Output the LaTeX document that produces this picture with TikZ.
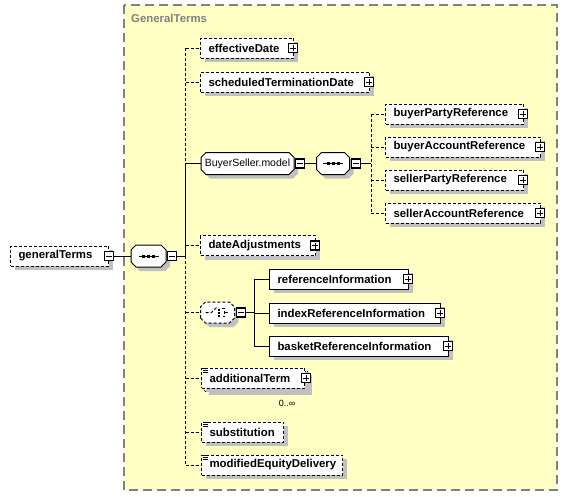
\documentclass[tikz,border=0pt]{standalone}
\usepackage{fontspec}
\setmainfont{Liberation Sans}
\usetikzlibrary{shadows}

\definecolor{bgyellow}{RGB}{255,255,196}
\definecolor{shadowgray}{RGB}{192,192,192}
\definecolor{framegray}{RGB}{128,128,128}

% box with cut corners for model groups and compositors
\makeatletter
\pgfdeclareshape{cutbox}{
  \inheritsavedanchors[from=rectangle]
  \inheritanchorborder[from=rectangle]
  \inheritanchor[from=rectangle]{center}
  \inheritanchor[from=rectangle]{north}
  \inheritanchor[from=rectangle]{south}
  \inheritanchor[from=rectangle]{east}
  \inheritanchor[from=rectangle]{west}
  \inheritanchor[from=rectangle]{north east}
  \inheritanchor[from=rectangle]{north west}
  \inheritanchor[from=rectangle]{south east}
  \inheritanchor[from=rectangle]{south west}
  \inheritanchor[from=rectangle]{base}
  \inheritanchor[from=rectangle]{mid}
  \backgroundpath{
    \southwest \pgf@xa=\pgf@x \pgf@ya=\pgf@y
    \northeast \pgf@xb=\pgf@x \pgf@yb=\pgf@y
    \pgfpathmoveto{\pgfpoint{\pgf@xa}{\pgf@ya+5pt}}
    \pgfpathlineto{\pgfpoint{\pgf@xa}{\pgf@yb-5pt}}
    \pgfpathlineto{\pgfpoint{\pgf@xa+5pt}{\pgf@yb}}
    \pgfpathlineto{\pgfpoint{\pgf@xb-5pt}{\pgf@yb}}
    \pgfpathlineto{\pgfpoint{\pgf@xb}{\pgf@yb-5pt}}
    \pgfpathlineto{\pgfpoint{\pgf@xb}{\pgf@ya+5pt}}
    \pgfpathlineto{\pgfpoint{\pgf@xb-5pt}{\pgf@ya}}
    \pgfpathlineto{\pgfpoint{\pgf@xa+5pt}{\pgf@ya}}
    \pgfpathclose
  }
}
\makeatother

\tikzset{
  boxshadow/.style={drop shadow={shadow xshift=4pt, shadow yshift=-4pt, fill=shadowgray, opacity=1}},
  elem/.style={rectangle, draw=black, fill=white, line width=1pt, anchor=west, inner xsep=8pt, inner ysep=0pt,
    minimum height=20pt, align=left, font=\fontsize{11.4}{13}\selectfont\bfseries, boxshadow},
  optelem/.style={elem, dash pattern=on 3pt off 2pt},
  compo/.style={cutbox, draw=black, fill=white, line width=1pt, inner sep=0pt, outer sep=0pt,
    minimum height=22pt, boxshadow},
  seqsym/.style={path picture={
    \draw[line width=1pt] ([xshift=-10pt]path picture bounding box.center) -- ([xshift=10pt]path picture bounding box.center);
    \foreach \d in {-5,0,5}
      \fill[black] ([xshift=\d pt]path picture bounding box.center) ++(-1.5,-1.5) rectangle ++(3,3);
  }},
  choicesym/.style={path picture={
    \draw[line width=1pt] ([shift={(-12,0)}]path picture bounding box.center) -- ([shift={(-6,0)}]path picture bounding box.center)
      -- ([shift={(-1,-5)}]path picture bounding box.center);
    \foreach \d in {-3,0,3}
      \fill[black] ([shift={(1.5,\d)}]path picture bounding box.center) ++(-1,-1) rectangle ++(2,2);
    \draw[line width=1pt] ([shift={(4,-4)}]path picture bounding box.center) -- ([shift={(7,-4)}]path picture bounding box.center)
      -- ([shift={(7,4)}]path picture bounding box.center) -- ([shift={(4,4)}]path picture bounding box.center);
    \draw[line width=1pt] ([shift={(7,0)}]path picture bounding box.center) -- ([shift={(12,0)}]path picture bounding box.center);
  }},
  expander/.style={rectangle, draw=black, fill=white, line width=1.2pt, minimum size=9pt, inner sep=0pt},
  plusbox/.style={expander, path picture={
    \draw[line width=1pt] ([xshift=-3pt]path picture bounding box.center) -- ([xshift=3pt]path picture bounding box.center);
    \draw[line width=1pt] ([yshift=-3pt]path picture bounding box.center) -- ([yshift=3pt]path picture bounding box.center);
  }},
  minusbox/.style={expander, path picture={
    \draw[line width=1pt] ([xshift=-3pt]path picture bounding box.center) -- ([xshift=3pt]path picture bounding box.center);
  }},
  optline/.style={line width=1pt, dash pattern=on 3pt off 2pt},
  reqline/.style={line width=1pt},
}

\begin{document}
\begin{tikzpicture}[x=1pt, y=-1pt]
\useasboundingbox (0,0) rectangle (568,496);

% group background
\fill[bgyellow] (124,5) rectangle (557,490);
\draw[framegray, line width=1.5pt, dash pattern=on 9pt off 5pt] (124,5) rectangle (557,490);
\node[anchor=west, text=framegray, font=\fontsize{11.4}{13}\selectfont\bfseries, inner sep=0pt] (groupLabel) at (131,18) {GeneralTerms};

% root element and its sequence
\node[optelem, text width=82pt] (generalTerms) at (10,256) {generalTerms};
\node[minusbox] (generalTermsM) at (generalTerms.east) {};
\node[compo, seqsym, minimum width=35pt] (mainSeq) at (148.5,256) {};
\node[minusbox, anchor=west] (mainSeqM) at ([xshift=1pt]mainSeq.east) {};
\coordinate (bus1) at (185.7,256);

% children of the sequence
\node[optelem, text width=77pt] (effectiveDate) at (200,48) {effectiveDate};
\node[optelem, text width=153pt] (scheduledTerminationDate) at (200,82) {scheduledTerminationDate};
\node[compo, anchor=west, minimum width=93pt, font=\fontsize{10.5}{12}\selectfont] (buyerSellerModel) at (201,163.5) {BuyerSeller.model};
\node[minusbox, anchor=west] (buyerSellerModelM) at ([xshift=1pt]buyerSellerModel.east) {};
\node[compo, seqsym, minimum width=33pt] (modelSeq) at (333,163.5) {};
\node[minusbox, anchor=west] (modelSeqM) at ([xshift=1pt]modelSeq.east) {};
\coordinate (bus2) at (371,163.5);
\node[optelem, text width=99pt] (dateAdjustments) at (200,245.5) {dateAdjustments};
\node[compo, choicesym, dash pattern=on 3pt off 2pt, minimum width=34pt, minimum height=21pt] (refChoice) at (217.5,312.5) {};
\node[minusbox, anchor=west] (refChoiceM) at ([xshift=1pt]refChoice.east) {};
\coordinate (bus3) at (254,312.5);

% stacked element (0..unbounded)
\node[optelem, text width=87pt] (additionalTermBack) at (204,381) {\phantom{additionalTerm}};
\node[optelem, text width=87pt, drop shadow={opacity=0}] (additionalTerm) at (201,378) {additionalTerm};
\node[font=\fontsize{9}{11}\selectfont, inner sep=0pt] (additionalTermOcc) at (287,403) {0..∞};
\node[optelem, text width=66pt] (substitution) at (201,432) {substitution};
\node[optelem, text width=125pt] (modifiedEquityDelivery) at (201,465) {modifiedEquityDelivery};

% buyer/seller references
\node[optelem, text width=122pt] (buyerPartyReference) at (385,114) {buyerPartyReference};
\node[optelem, text width=139pt] (buyerAccountReference) at (385,147) {buyerAccountReference};
\node[optelem, text width=122pt] (sellerPartyReference) at (385,180) {sellerPartyReference};
\node[optelem, text width=139pt] (sellerAccountReference) at (385,213) {sellerAccountReference};

% choice of reference information
\node[elem, text width=123pt] (referenceInformation) at (269,279) {referenceInformation};
\node[elem, text width=155pt] (indexReferenceInformation) at (269,313) {indexReferenceInformation};
\node[elem, text width=163pt] (basketReferenceInformation) at (269,346) {basketReferenceInformation};

% expand buttons
\foreach \n in {effectiveDate, scheduledTerminationDate, dateAdjustments, buyerPartyReference, buyerAccountReference,
  sellerPartyReference, sellerAccountReference, referenceInformation, indexReferenceInformation, basketReferenceInformation}
  \node[plusbox] at ([xshift=-1pt]\n.east) {};
\node[plusbox] at ([shift={(1,0)}]additionalTerm.east) {};

% simple type marks
\foreach \n in {additionalTerm, substitution, modifiedEquityDelivery}
  \foreach \d in {0,2,4}
    \draw[line width=0.8pt] ([shift={(2,1+\d)}]\n.north west) -- ++(5,0);

% connectors
\draw[reqline] (generalTermsM.east) -- (mainSeq.west);
\draw[reqline] (mainSeqM.east) -- (bus1);
\draw[optline] (effectiveDate.west -| bus1) -- (buyerSellerModel.west -| bus1);
\draw[reqline] (buyerSellerModel.west -| bus1) -- (bus1);
\draw[optline] (bus1) -- (modifiedEquityDelivery.west -| bus1);
\foreach \n in {effectiveDate, scheduledTerminationDate, dateAdjustments, refChoice, additionalTerm, substitution, modifiedEquityDelivery}
  \draw[optline] (\n.west -| bus1) -- (\n.west);
\draw[reqline] (buyerSellerModel.west -| bus1) -- (buyerSellerModel.west);
\draw[reqline] (buyerSellerModelM.east) -- (modelSeq.west);
\draw[reqline] (modelSeqM.east) -- (bus2);
\draw[optline] (buyerPartyReference.west -| bus2) -- (sellerAccountReference.west -| bus2);
\foreach \n in {buyerPartyReference, buyerAccountReference, sellerPartyReference, sellerAccountReference}
  \draw[optline] (\n.west -| bus2) -- (\n.west);
\draw[reqline] (refChoiceM.east) -- (bus3);
\draw[reqline] (referenceInformation.west -| bus3) -- (basketReferenceInformation.west -| bus3);
\foreach \n in {referenceInformation, indexReferenceInformation, basketReferenceInformation}
  \draw[reqline] (\n.west -| bus3) -- (\n.west);
\end{tikzpicture}
\end{document}
